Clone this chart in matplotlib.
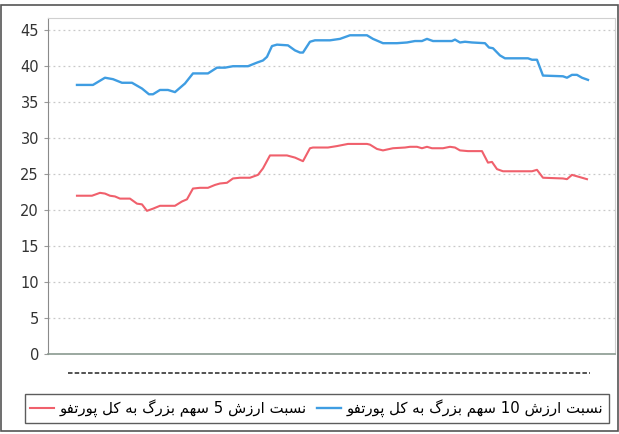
import matplotlib
matplotlib.use("Agg")
import matplotlib.pyplot as plt
from matplotlib.lines import Line2D
from matplotlib.patches import Rectangle

# position along the period (same unit for both series)
t_top10 = [0, 16, 28, 36, 45, 55, 65, 72, 76, 83, 91, 98, 108, 116, 131, 140, 148, 156,
           171, 180, 186, 190, 195, 200, 211, 218, 223, 226, 233, 238, 253, 263, 273, 290,
           296, 306, 320, 330, 338, 345, 350, 356, 375, 378, 383, 388, 395, 408, 412, 416,
           423, 428, 451, 455, 460, 466, 486, 490, 495, 500, 505, 511]
top10 = [37.4, 37.4, 38.4, 38.2, 37.7, 37.7, 36.9, 36.1, 36.1, 36.7, 36.7, 36.4, 37.6, 39.0,
         39.0, 39.8, 39.8, 40.0, 40.0, 40.5, 40.8, 41.3, 42.8, 43.0, 42.9, 42.2, 41.9, 41.9,
         43.4, 43.6, 43.6, 43.8, 44.3, 44.3, 43.8, 43.2, 43.2, 43.3, 43.5, 43.5, 43.8, 43.5,
         43.5, 43.7, 43.3, 43.4, 43.3, 43.2, 42.6, 42.5, 41.5, 41.1, 41.1, 40.9, 40.9, 38.7,
         38.6, 38.4, 38.8, 38.8, 38.4, 38.1]

t_top5 = [0, 15, 23, 28, 33, 38, 43, 53, 60, 65, 70, 76, 83, 98, 105, 110, 116, 123, 131,
          138, 143, 150, 156, 163, 173, 181, 186, 193, 210, 218, 226, 233, 236, 251, 260,
          271, 290, 293, 300, 306, 316, 328, 333, 340, 345, 350, 355, 366, 373, 378, 383,
          391, 405, 411, 415, 420, 426, 455, 460, 466, 486, 490, 495, 500, 510]
top5 = [22.0, 22.0, 22.4, 22.3, 22.0, 21.9, 21.6, 21.6, 20.9, 20.8, 19.9, 20.2, 20.6, 20.6,
        21.2, 21.5, 23.0, 23.1, 23.1, 23.5, 23.7, 23.8, 24.4, 24.5, 24.5, 24.9, 25.8, 27.6,
        27.6, 27.3, 26.8, 28.6, 28.7, 28.7, 28.9, 29.2, 29.2, 29.1, 28.5, 28.3, 28.6, 28.7,
        28.8, 28.8, 28.6, 28.8, 28.6, 28.6, 28.8, 28.7, 28.3, 28.2, 28.2, 26.6, 26.7, 25.7,
        25.4, 25.4, 25.6, 24.5, 24.4, 24.3, 24.9, 24.7, 24.3]

y_ticks = [0, 5, 10, 15, 20, 25, 30, 35, 40, 45]
label_top5 = "نسبت ارزش 5 سهم بزرگ به کل پورتفو"
label_top10 = "نسبت ارزش 10 سهم بزرگ به کل پورتفو"

# matplotlib has no arabic shaping, so pick presentation forms by hand
# (isolated, final, initial, medial)
FORMS = {
    'ا': ('\uFE8D', '\uFE8E', None, None),
    'ر': ('\uFEAD', '\uFEAE', None, None),
    'ز': ('\uFEAF', '\uFEB0', None, None),
    'و': ('\uFEED', '\uFEEE', None, None),
    'ب': ('\uFE8F', '\uFE90', '\uFE91', '\uFE92'),
    'پ': ('\uFB56', '\uFB57', '\uFB58', '\uFB59'),
    'ت': ('\uFE95', '\uFE96', '\uFE97', '\uFE98'),
    'س': ('\uFEB1', '\uFEB2', '\uFEB3', '\uFEB4'),
    'ش': ('\uFEB5', '\uFEB6', '\uFEB7', '\uFEB8'),
    'ف': ('\uFED1', '\uFED2', '\uFED3', '\uFED4'),
    'ک': ('\uFB8E', '\uFB8F', '\uFB90', '\uFB91'),
    'گ': ('\uFB92', '\uFB93', '\uFB94', '\uFB95'),
    'ل': ('\uFEDD', '\uFEDE', '\uFEDF', '\uFEE0'),
    'م': ('\uFEE1', '\uFEE2', '\uFEE3', '\uFEE4'),
    'ن': ('\uFEE5', '\uFEE6', '\uFEE7', '\uFEE8'),
    'ه': ('\uFEE9', '\uFEEA', '\uFEEB', '\uFEEC'),
}


def rtl(text):
    shaped = []
    for i, ch in enumerate(text):
        if ch not in FORMS:
            shaped.append(ch)
            continue
        prev = text[i - 1] if i > 0 else ''
        nxt = text[i + 1] if i + 1 < len(text) else ''
        iso, fin, ini, med = FORMS[ch]
        jp = prev in FORMS and FORMS[prev][2] is not None
        jn = ini is not None and nxt in FORMS
        if jp and jn:
            shaped.append(med)
        elif jp:
            shaped.append(fin)
        elif jn:
            shaped.append(ini)
        else:
            shaped.append(iso)
    words = ''.join(shaped).split(' ')
    return ' '.join(w if w.isdigit() else w[::-1] for w in reversed(words))


plt.rcParams['font.family'] = ['DejaVu Sans']

fig = plt.figure(figsize=(6.19, 4.34), dpi=100)
ax = fig.add_axes([0.0775, 0.1843, 0.916, 0.7742])

ax.plot(t_top5, top5, color='#f0606c', lw=1.5, label=rtl(label_top5))
ax.plot(t_top10, top10, color='#3f9de2', lw=1.7, label=rtl(label_top10))

ax.set_xlim(-29, 538)
ax.set_ylim(0, 46.7)
ax.set_yticks(y_ticks)
ax.set_xticks([])
ax.tick_params(axis='y', labelsize=10.5, labelcolor='#333333', color='#999999', length=3)
ax.grid(axis='y', linestyle=(0, (1.5, 2.5)), color='#c8c8c8', lw=0.9)
for side in ['top', 'right']:
    ax.spines[side].set_color('#d0d0d0')
ax.spines['left'].set_color('#8a8a8a')
ax.spines['bottom'].set_color('#8a9a90')
ax.spines['bottom'].set_linewidth(1.2)

# unreadable x tick labels of the scan: a dotted strip under the axis
fig.add_artist(Line2D([0.11, 0.953], [0.141, 0.141], color='#444444', lw=1.3,
                      linestyle=(0, (2.5, 1.2))))

leg = ax.legend(loc='center', bbox_to_anchor=(0.512, 0.059), bbox_transform=fig.transFigure,
                ncol=2, fontsize=10.7, frameon=True, fancybox=False, handlelength=1.6,
                handletextpad=0.4, columnspacing=0.7, borderpad=0.35)
leg.get_frame().set_edgecolor('#333333')
leg.get_frame().set_linewidth(1.0)

fig.add_artist(Rectangle((0.002, 0.007), 0.996, 0.981, transform=fig.transFigure,
                         fill=False, edgecolor='#555555', lw=1.2))

fig.savefig('out.png', dpi=100)
